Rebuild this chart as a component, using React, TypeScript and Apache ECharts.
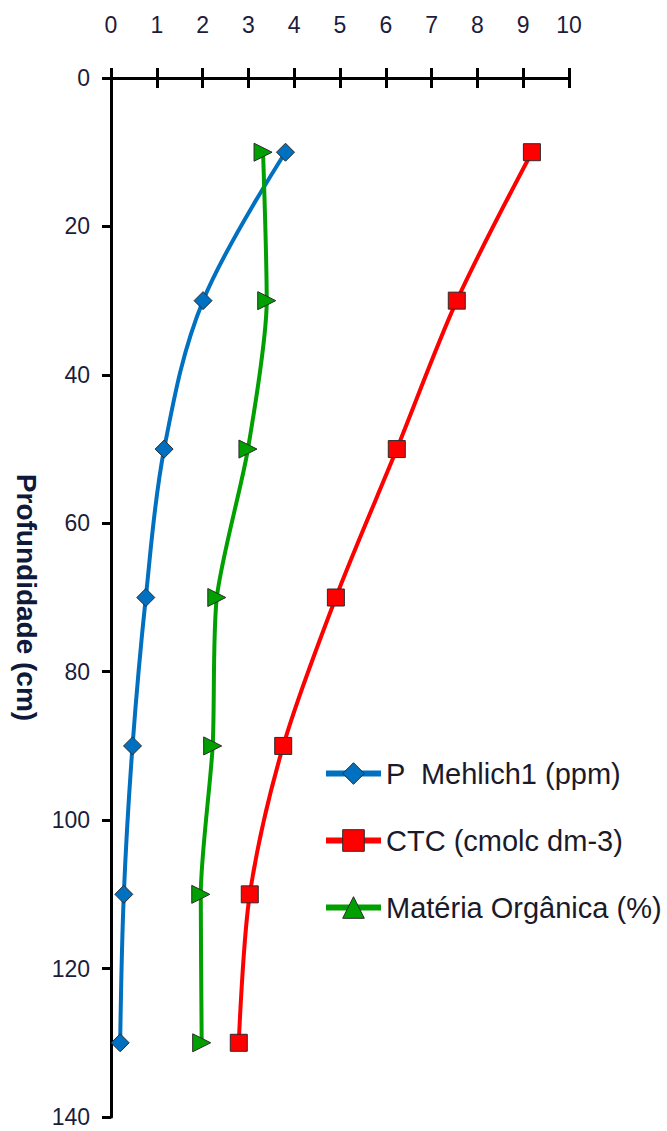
import React, { useEffect, useRef } from "react";
import * as echarts from "echarts";

// Soil profile: depth (cm) against three soil properties
const depths = [10, 30, 50, 70, 90, 110, 130];
const pMehlich = [3.81, 2.01, 1.16, 0.76, 0.47, 0.28, 0.2];
const ctc = [9.19, 7.55, 6.24, 4.91, 3.76, 3.03, 2.79];
const materiaOrganica = [3.32, 3.4, 2.99, 2.31, 2.22, 1.96, 1.98];

const seriesNames = ["P  Mehlich1 (ppm)", "CTC (cmolc dm-3)", "Matéria Orgânica (%)"];
const xTicks = { min: 0, max: 10, interval: 1 };
const yTicks = { min: 0, max: 140, interval: 20 };

const pairs = (xs: number[]) => xs.map((v, i) => [v, depths[i]]);

export default function App() {
  const ref = useRef<HTMLDivElement>(null);

  useEffect(() => {
    if (!ref.current) return;
    const chart = echarts.init(ref.current, undefined, { renderer: "svg" });
    const labelFont = {
      fontFamily: "Liberation Sans",
      fontSize: 23,
      color: "#1c1c3c",
    };
    const axisLine = { show: true, lineStyle: { color: "#000", width: 3 } };
    const tickStyle = { color: "#000", width: 3 };
    const grid = { left: 111, right: 98, top: 78, bottom: 14, outerBoundsMode: "none" };

    const markerBorder = { borderColor: "#2b2b2b", borderWidth: 1 };

    chart.setOption({
      animation: false,
      backgroundColor: "#fff",
      grid,
      legend: {
        orient: "vertical",
        left: 318,
        top: 754,
        itemWidth: 55,
        itemHeight: 27,
        itemGap: 38,
        itemStyle: markerBorder,
        lineStyle: { width: 6 },
        symbolRotate: 0,
        textStyle: {
          fontFamily: "Liberation Sans",
          fontSize: 29,
          color: "#1a1a2a",
        },
        data: seriesNames,
      },
      xAxis: [
        {
          type: "value",
          position: "top",
          ...xTicks,
          axisLine,
          axisTick: { show: true, length: 10, lineStyle: tickStyle },
          axisLabel: { ...labelFont, margin: 42 },
          splitLine: { show: false },
        },
        {
          type: "value",
          position: "top",
          ...xTicks,
          axisLine: { show: false },
          axisTick: { show: true, inside: true, length: 10, lineStyle: tickStyle },
          axisLabel: { show: false },
          splitLine: { show: false },
        },
      ],
      yAxis: [
        {
          type: "value",
          inverse: true,
          ...yTicks,
          name: "Profundidade (cm)",
          nameLocation: "middle",
          nameRotate: -90,
          nameGap: 68,
          nameTextStyle: {
            fontFamily: "Liberation Sans",
            fontWeight: "bold",
            fontSize: 28,
            color: "#0f1a3a",
          },
          axisLine,
          axisTick: { show: true, length: 8, lineStyle: tickStyle },
          axisLabel: { ...labelFont, margin: 21 },
          splitLine: { show: false },
        },
        {
          type: "value",
          inverse: true,
          ...yTicks,
          axisLine: { show: false },
          axisTick: { show: true, inside: true, length: 9, lineStyle: tickStyle },
          axisLabel: { show: false },
          splitLine: { show: false },
        },
      ],
      series: [
        {
          name: seriesNames[0],
          type: "line",
          data: pairs(pMehlich),
          smooth: 0.35,
          symbol: "diamond",
          symbolSize: 18,
          lineStyle: { color: "#0070c0", width: 4 },
          itemStyle: { color: "#0070c0", ...markerBorder },
          z: 3,
        },
        {
          name: seriesNames[1],
          type: "line",
          data: pairs(ctc),
          smooth: 0.3,
          symbol: "rect",
          symbolSize: 17,
          lineStyle: { color: "#ff0000", width: 4 },
          itemStyle: { color: "#ff0000", ...markerBorder },
          z: 2,
        },
        {
          name: seriesNames[2],
          type: "line",
          data: pairs(materiaOrganica),
          smooth: 0.25,
          symbol: "triangle",
          symbolRotate: -90,
          symbolSize: 18,
          lineStyle: { color: "#00a000", width: 4 },
          itemStyle: { color: "#00a000", ...markerBorder },
          z: 4,
        },
      ],
    });
    return () => chart.dispose();
  }, []);

  return (
    <div
      ref={ref}
      style={{ position: "absolute", left: 0, top: 0, width: 667, height: 1131 }}
    />
  );
}
